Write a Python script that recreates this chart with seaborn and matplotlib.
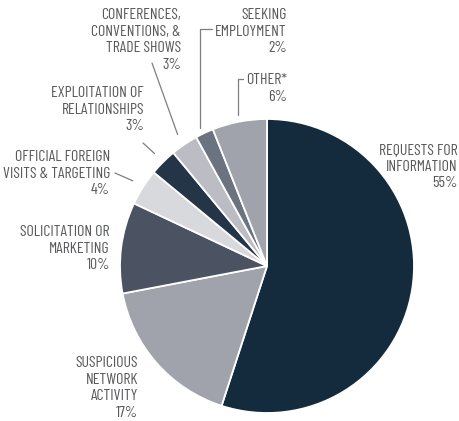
import numpy as np
import matplotlib
matplotlib.use('Agg')
import matplotlib.pyplot as plt
from matplotlib import font_manager
import seaborn as sns

sns.set_style('white')
installed = {f.name for f in font_manager.fontManager.ttflist}
wanted = ['Barlow Condensed', 'Archivo Narrow', 'PT Sans Narrow', 'Roboto Condensed',
          'Liberation Sans Narrow', 'Roboto']
font = next(f for f in wanted if f in installed)
plt.rcParams['font.family'] = [font, 'DejaVu Sans']

categories = ['REQUESTS FOR\nINFORMATION', 'SUSPICIOUS\nNETWORK\nACTIVITY',
              'SOLICITATION OR\nMARKETING', 'OFFICIAL FOREIGN\nVISITS & TARGETING',
              'EXPLOITATION OF\nRELATIONSHIPS', 'CONFERENCES,\nCONVENTIONS, &\nTRADE SHOWS',
              'SEEKING\nEMPLOYMENT', 'OTHER*']
shares = [55, 17, 10, 4, 3, 3, 2, 6]
colors = ['#132b3c', '#a0a3ab', '#4b5262', '#d8d9dc', '#243547', '#bcbdc4', '#6b7280', '#a0a3ab']

W, H = 460, 421
cx, cy, R = 267, 266, 147
fig = plt.figure(figsize=(W / 100, H / 100), dpi=100)

# pie axes sized so radius 1 = R pixels
ax = fig.add_axes([(cx - R) / W, (H - cy - R) / H, 2 * R / W, 2 * R / H])
ax.pie(shares, colors=colors, startangle=90, counterclock=False,
       wedgeprops=dict(edgecolor='white', linewidth=1.3))
ax.set_xlim(-1, 1)
ax.set_ylim(-1, 1)
ax.axis('off')

# overlay axes in pixel coords for labels and leader lines
ov = fig.add_axes([0, 0, 1, 1])
ov.set_xlim(0, W)
ov.set_ylim(H, 0)
ov.axis('off')

txt = '#58595b'
lc = '#7d7e82'

# label anchor: right edge x, first line centre y
label_pos = [(458, 150), (138, 363), (110, 232), (110, 157),
             (144, 93), (181, 15), (287, 15), (287, 80)]
for name, val, (x, y) in zip(categories, shares, label_pos):
    lines = name.split('\n') + [f'{val}%']
    for i, line in enumerate(lines):
        ov.text(x, y + i * 16.7, line, ha='right', va='center',
                fontsize=11.4, color=txt)

# wedge edge point at mid angle
cum = np.cumsum([0] + shares)
def edge_pt(i, r):
    a = np.deg2rad((cum[i] + shares[i] / 2) / 100 * 360)
    return cx + r * np.sin(a), cy - r * np.cos(a)

# diagonal leaders
for i, start in [(3, (115, 173)), (4, (143, 143)), (5, (152, 63))]:
    ex, ey = edge_pt(i, R + 12)
    ov.plot([start[0], ex], [start[1], ey], color=lc, lw=0.9)

# bracket leaders
ov.plot([212, 200.5, 200.5], [29, 29, edge_pt(6, R + 5)[1]], color=lc, lw=0.9)
ov.plot([243, 238, 238], [79, 79, 115], color=lc, lw=0.9)

fig.savefig('out.png', dpi=100)
